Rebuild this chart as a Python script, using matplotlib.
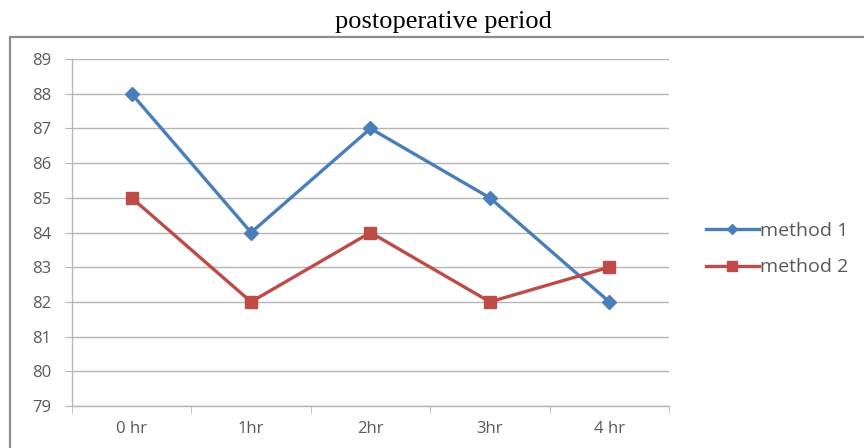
#!/usr/bin/env python3
"""Postoperative period line chart (two methods)."""

import matplotlib
matplotlib.use("Agg")
import matplotlib.pyplot as plt
import numpy as np
from matplotlib.patches import Rectangle

CATEGORIES = ["0 hr", "1hr", "2hr", "3hr", "4 hr"]
METHOD_1 = [88, 84, 87, 85, 82]
METHOD_2 = [85, 82, 84, 82, 83]
Y_TICKS = list(range(79, 90))

BLUE = "#4A7EBB"
RED = "#BE4B48"
GRID = "#B5B5B5"
LABEL = "#595959"


def main() -> None:
    plt.rcParams["font.family"] = ["Open Sans", "DejaVu Sans"]
    fig = plt.figure(figsize=(8.64, 4.48), dpi=100)
    ax = fig.add_axes([0.0833, 0.094, 0.691, 0.774])

    # outer chart border
    fig.patches.append(
        Rectangle((0.0116, -0.02), 1.0, 0.937, transform=fig.transFigure,
                  fill=False, edgecolor="#8C8C8C", linewidth=1.6)
    )

    x = np.arange(len(CATEGORIES))
    ax.plot(x, METHOD_1, color=BLUE, linewidth=2.4, marker="D", markersize=7,
            label="method 1", zorder=3)
    ax.plot(x, METHOD_2, color=RED, linewidth=2.4, marker="s", markersize=8.5,
            label="method 2", zorder=3)

    ax.set_xlim(-0.5, len(CATEGORIES) - 0.5)
    ax.set_ylim(79, 89)
    ax.set_yticks(Y_TICKS)
    ax.set_xticks(x)
    ax.set_xticklabels(CATEGORIES)
    ax.set_xticks(np.arange(-0.5, len(CATEGORIES)), minor=True)
    ax.tick_params(axis="x", which="major", length=0, pad=11, labelsize=12,
                   labelcolor=LABEL)
    ax.tick_params(axis="x", which="minor", length=5, color=GRID, direction="out")
    ax.tick_params(axis="y", length=5, color=GRID, labelsize=12, labelcolor=LABEL,
                   pad=10)
    ax.grid(axis="y", color=GRID, linewidth=1.0, zorder=0)
    for side in ["top", "right"]:
        ax.spines[side].set_visible(False)
    for side in ["left", "bottom"]:
        ax.spines[side].set_color(GRID)
        ax.spines[side].set_linewidth(1.0)

    ax.legend(loc="center left", bbox_to_anchor=(1.033, 0.452),
              frameon=False, fontsize=14, labelcolor=LABEL,
              handlelength=2.7, labelspacing=0.95, handletextpad=0.05,
              markerscale=0.8)

    fig.text(0.513, 0.9375, "postoperative period", ha="center", va="baseline",
             family="Liberation Serif", fontsize=19)

    fig.savefig("out.png", dpi=100)
    plt.close(fig)


if __name__ == "__main__":
    main()
